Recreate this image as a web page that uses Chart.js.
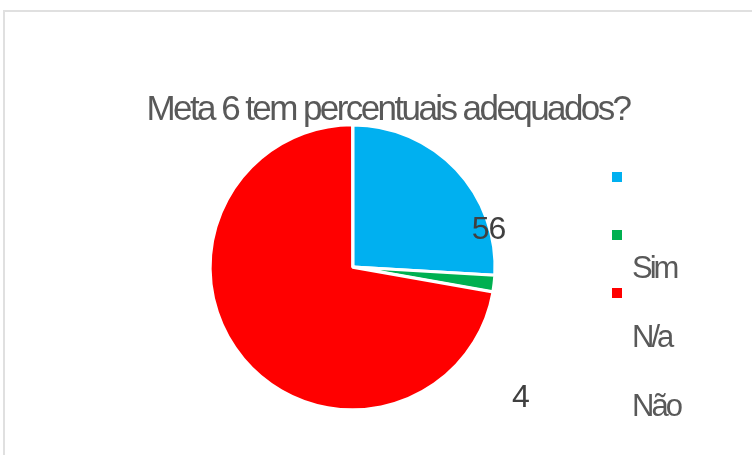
<!DOCTYPE html>
<html>
<head>
<meta charset="utf-8">
<script src="https://cdn.jsdelivr.net/npm/chart.js@4.4.1/dist/chart.umd.min.js"></script>
<style>
html, body { margin: 0; padding: 0; background: #fff; overflow: hidden; }
#wrap { position: relative; width: 752px; height: 455px; }
#frame { position: absolute; left: 3px; top: 10px; width: 800px; height: 500px;
         border: 2px solid #e0e0e0; box-sizing: border-box; pointer-events: none; }
canvas { position: absolute; left: 0; top: 0; }
</style>
</head>
<body>
<div id="wrap">
  <canvas id="myChart" width="752" height="455"></canvas>
  <div id="frame"></div>
</div>
<script>
// data
const titleText = 'Meta 6 tem percentuais adequados?';
const categories = ['Sim', 'N/a', 'Não'];
const counts = [56, 4, 156];
const sliceColors = ['#00b0f0', '#00b050', '#ff0000'];
const shownLabels = ['56', '4', ''];

const FONT = '"Liberation Sans", Arial, sans-serif';

// where the value labels sit: fraction along the slice + extra turn, distance in radii
const labelSpots = [
    { frac: 0.8, extra: 0, dist: 0.99 },
    { frac: 0.5, extra: 0.55, dist: 1.5 },
    null
];

// title with squeezed letters, drawn on top of the pie
const titlePlugin = {
    id: 'squeezedTitle',
    afterDraw(chart) {
        let ctx = chart.ctx;
        ctx.save();
        ctx.font = '35px ' + FONT;
        ctx.fillStyle = '#595959';
        ctx.textAlign = 'left';
        ctx.textBaseline = 'alphabetic';
        let target = 483;
        let natural = ctx.measureText(titleText).width;
        if ('letterSpacing' in ctx) {
            ctx.letterSpacing = ((target - natural) / titleText.length) + 'px';
            ctx.fillText(titleText, 388 - target / 2, 120);
        } else {
            ctx.translate(388 - target / 2, 120);
            ctx.scale(target / natural, 1);
            ctx.fillText(titleText, 0, 0);
        }
        ctx.restore();
    }
};

// value labels
const valuePlugin = {
    id: 'valueLabels',
    afterDatasetsDraw(chart) {
        let ctx = chart.ctx;
        let meta = chart.getDatasetMeta(0);
        ctx.save();
        ctx.font = '32px ' + FONT;
        ctx.fillStyle = '#404040';
        ctx.textAlign = 'center';
        ctx.textBaseline = 'middle';
        if ('letterSpacing' in ctx) ctx.letterSpacing = '-1px';
        meta.data.forEach((arc, i) => {
            let spot = labelSpots[i];
            if (!spot || !shownLabels[i]) return;
            let a = arc.startAngle + spot.frac * (arc.endAngle - arc.startAngle) + spot.extra;
            let r = arc.outerRadius * spot.dist;
            ctx.fillText(shownLabels[i], arc.x + Math.cos(a) * r, arc.y + Math.sin(a) * r);
        });
        ctx.restore();
    }
};

// legend with markers and names drifting apart, like the original
const legendPlugin = {
    id: 'stairLegend',
    afterDraw(chart) {
        let ctx = chart.ctx;
        ctx.save();
        ctx.font = '31px ' + FONT;
        ctx.textAlign = 'left';
        ctx.textBaseline = 'alphabetic';
        if ('letterSpacing' in ctx) ctx.letterSpacing = '-3px';
        categories.forEach((name, i) => {
            ctx.fillStyle = sliceColors[i];
            ctx.fillRect(612, 172 + i * 58, 10, 10);
            ctx.fillStyle = '#595959';
            ctx.fillText(name, 632, 278 + i * 69);
        });
        ctx.restore();
    }
};

var ctx = document.getElementById('myChart').getContext('2d');

var myChart = new Chart(ctx, {
    type: 'pie',
    data: {
        labels: categories,
        datasets: [{
            data: counts,
            backgroundColor: sliceColors,
            borderColor: '#ffffff',
            borderWidth: 3,
            hoverBorderWidth: 3,
            offset: [0, 0, 2],
            hoverOffset: 0
        }]
    },
    options: {
        responsive: false,
        devicePixelRatio: 1,
        animation: false,
        events: [],
        layout: {
            padding: { left: 208.5, right: 254.5, top: 122.5, bottom: 43.5 }
        },
        plugins: {
            legend: { display: false },
            title: { display: false },
            tooltip: { enabled: false }
        }
    },
    plugins: [valuePlugin, titlePlugin, legendPlugin]
});
</script>
</body>
</html>
